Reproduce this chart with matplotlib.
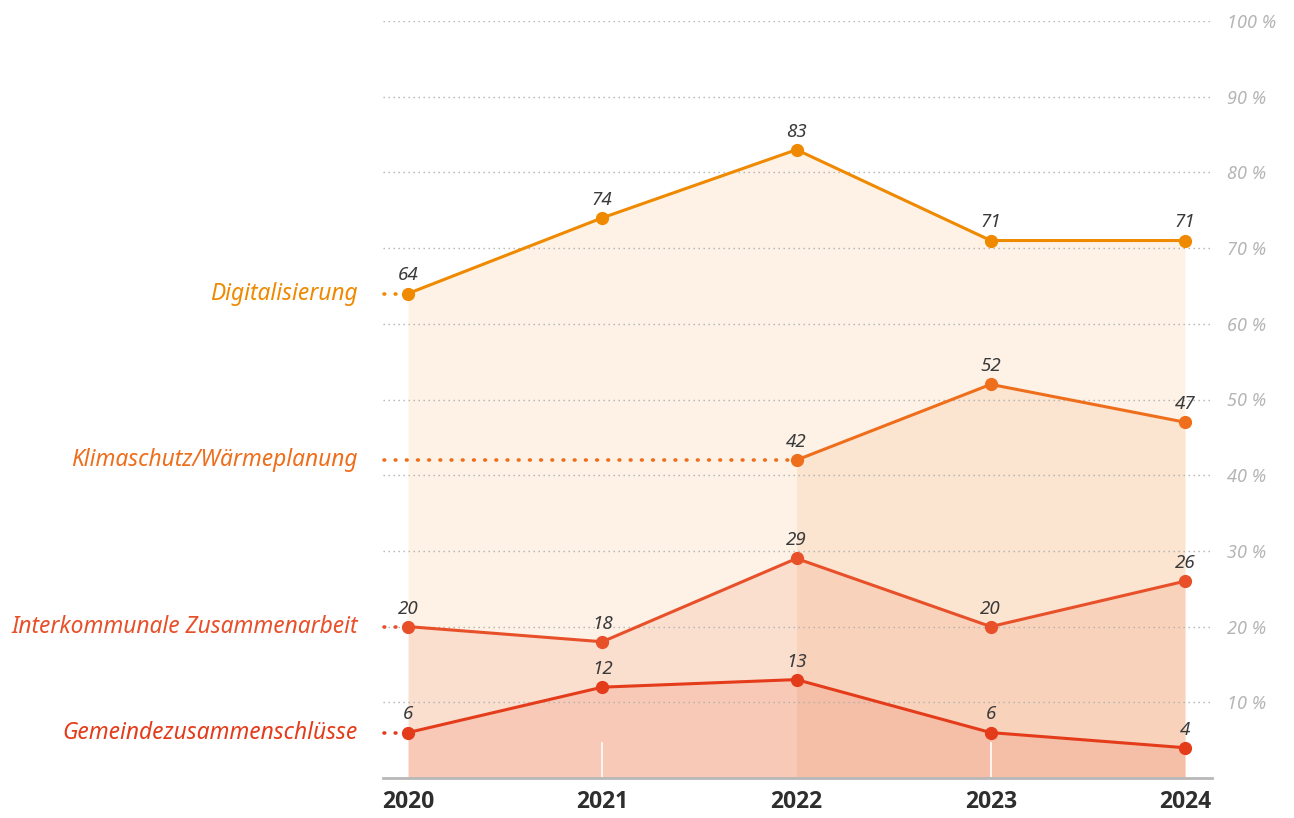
import matplotlib.pyplot as plt

years = [2020, 2021, 2022, 2023, 2024]
year_labels = ["2020", "2021", "2022", "2023", "2024"]

series_names = ["Digitalisierung", "Klimaschutz/Wärmeplanung",
                "Interkommunale Zusammenarbeit", "Gemeindezusammenschlüsse"]
digital = [64, 74, 83, 71, 71]
klima_years = [2022, 2023, 2024]
klima = [42, 52, 47]
inter = [20, 18, 29, 20, 26]
gemeinde = [6, 12, 13, 6, 4]

y_ticks = [10, 20, 30, 40, 50, 60, 70, 80, 90, 100]

colors = ["#EF8900", "#EE6E1C", "#E8502A", "#E43C1A"]
alphas = [0.10, 0.10, 0.12, 0.13]

FONT = "Noto Sans"
x0, x1 = 2020 - 0.129, 2024 + 0.139

fig = plt.figure(figsize=(12.94, 8.18), dpi=100)
ax = fig.add_axes([383 / 1294, 40 / 818, (1212 - 383) / 1294, (778 - 21) / 818])
ax.set_xlim(x0, x1)
ax.set_ylim(0, 100)

all_series = [(years, digital), (klima_years, klima), (years, inter), (years, gemeinde)]

for i, (xs, ys) in enumerate(all_series):
    ax.fill_between(xs, 0, ys, color=colors[i], alpha=alphas[i], linewidth=0, zorder=1)

# grid lines over the fills
for t in y_ticks:
    ax.plot([x0, x1], [t, t], color="#B0B0B0", lw=1.0, ls=(0, (1, 2.6)), zorder=2)

# thin white gaps seen at 2021 and 2023
for yr in [2021, 2023]:
    ax.plot([yr, yr], [0, 4.6], color="white", lw=1.3, alpha=0.9, zorder=2.5)

for i, (xs, ys) in enumerate(all_series):
    c = colors[i]
    ax.plot(xs, ys, color=c, lw=2.2, zorder=4, solid_capstyle="round")
    ax.plot(xs, ys, "o", color=c, ms=8.5, zorder=5, clip_on=False)
    # dotted leader from label to first point
    ax.plot([x0 + 0.003, xs[0] - 0.02], [ys[0], ys[0]], color=c, lw=2.6,
            ls=(0, (0.2, 2.9)), dash_capstyle="round", zorder=4, clip_on=False)
    ax.text(x0 - 0.13, ys[0], series_names[i], color=c, fontsize=16.4,
            style="italic", family=FONT, ha="right", va="center")
    for x, y in zip(xs, ys):
        ax.text(x, y + 1.2, str(y), color="#3A3A3A", fontsize=13.5,
                style="italic", family=FONT, ha="center", va="bottom", zorder=6)

ax.set_yticks(y_ticks)
ax.set_yticklabels([f"{t} %" for t in y_ticks], fontdict={"family": FONT, "style": "italic"})
ax.yaxis.tick_right()
ax.tick_params(axis="y", length=0, pad=11, labelcolor="#B5B5B5", labelsize=13)

ax.set_xticks(years)
ax.set_xticklabels(year_labels, fontdict={"family": ["Open Sans", "DejaVu Sans"], "weight": "bold"})
ax.tick_params(axis="x", length=0, pad=9, labelcolor="#2E2E2E", labelsize=16.5)

for s in ["top", "right", "left"]:
    ax.spines[s].set_visible(False)
ax.spines["bottom"].set_color("#B8B8B8")
ax.spines["bottom"].set_linewidth(2)
ax.spines["bottom"].set_zorder(3)

fig.savefig("out.png", dpi=100)
